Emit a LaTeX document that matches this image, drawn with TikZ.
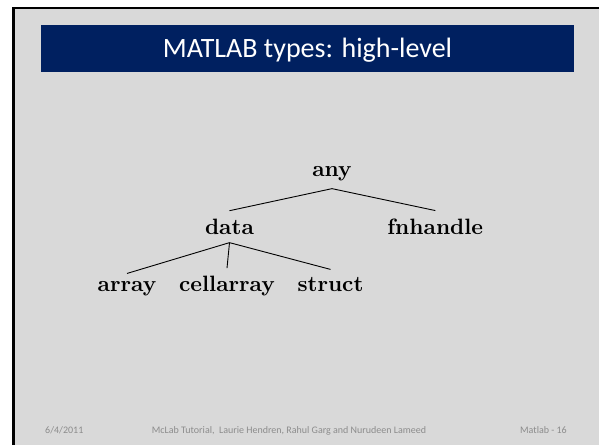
\documentclass[tikz,border=0pt]{standalone}
\usepackage{fontspec}
\newfontfamily\calibri{Carlito}
\newfontfamily\treefont{lmroman10-bold}[Extension=.otf]
\definecolor{slidegray}{RGB}{217,217,217}
\definecolor{navy}{RGB}{0,32,96}
\definecolor{footgray}{RGB}{140,140,140}
\tikzset{
  treenode/.style={inner sep=8pt, font=\treefont\fontsize{22.2}{26}\selectfont, anchor=base},
  treeline/.style={line width=0.9pt, black},
  foottext/.style={inner sep=0pt, text=footgray, font=\calibri\fontsize{10}{12}\selectfont}
}
\begin{document}
\begin{tikzpicture}[x=1pt,y=-1pt]
\useasboundingbox (0,0) rectangle (599,445);
\fill[white] (0,0) rectangle (599,445);
\fill[slidegray] (13,8) rectangle (599,445);
\draw[line width=2.5pt, black] (12,8.2) -- (599,8.2);
\draw[line width=3pt, black] (13.5,7) -- (13.5,445);
% title bar
\fill[navy] (41,25) rectangle (574,72);
\node[inner sep=0pt, anchor=base, text=white, font=\calibri\fontsize{28}{32}\selectfont] (title) at (307.5,57) {MATLAB types: high-level};
% tree
\node[treenode] (any) at (332,176) {any};
\node[treenode] (data) at (229.5,234.3) {data};
\node[treenode] (fnhandle) at (435.3,234.3) {fnhandle};
\node[treenode] (array) at (127,291.7) {array};
\node[treenode] (cellarray) at (227,291.7) {cellarray};
\node[treenode] (struct) at (330.5,291.7) {struct};
\draw[treeline] (any.south) -- (data.north);
\draw[treeline] (any.south) -- (fnhandle.north);
\draw[treeline] (data.south) -- (array.north);
\draw[treeline] (data.south) -- (cellarray.north);
\draw[treeline] (data.south) -- (struct.north);
% footer
\node[foottext, anchor=base west] (date) at (45,433) {6/4/2011};
\node[foottext, anchor=base] (authors) at (289,433) {McLab Tutorial,\ \ Laurie Hendren, Rahul Garg and Nurudeen Lameed};
\node[foottext, anchor=base east] (page) at (567,433) {Matlab - 16};
\end{tikzpicture}
\end{document}
